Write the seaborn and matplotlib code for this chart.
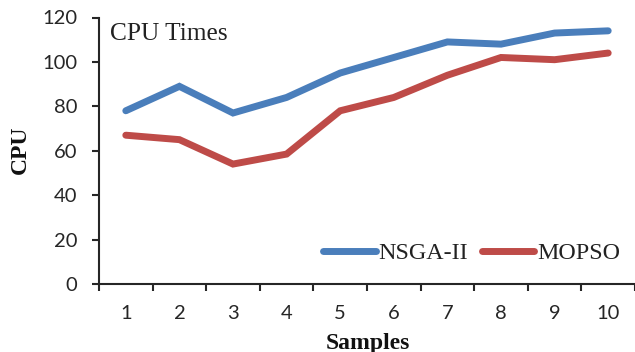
import matplotlib
matplotlib.use("Agg")
import matplotlib.pyplot as plt
import seaborn as sns
import pandas as pd
import numpy as np

samples = [1, 2, 3, 4, 5, 6, 7, 8, 9, 10]
nsga2 = [78, 89, 77, 84, 95, 102, 109, 108, 113, 114]
mopso = [67, 65, 54, 58.5, 78, 84, 94, 102, 101, 104]
series_names = ["NSGA-II", "MOPSO"]
y_ticks = [0, 20, 40, 60, 80, 100, 120]

df = pd.DataFrame({
    "Samples": samples * 2,
    "CPU": nsga2 + mopso,
    "Algorithm": [series_names[0]] * len(samples) + [series_names[1]] * len(samples),
})

sns.set_style("ticks")
plt.rcParams["font.family"] = ["Lato", "DejaVu Sans"]

fig = plt.figure(figsize=(6.35, 3.52), dpi=100)
ax = fig.add_axes([99 / 635, 68 / 352, 1 - 99 / 635, (284 - 17.5) / 352])

palette = {"NSGA-II": "#4A7EBB", "MOPSO": "#BE4B48"}
sns.lineplot(data=df, x="Samples", y="CPU", hue="Algorithm", palette=palette,
             linewidth=5, ax=ax, legend=True)
for ln in ax.lines:
    ln.set_solid_capstyle("round")
    ln.set_solid_joinstyle("miter")

ax.set_xlim(0.5, 10.5)
ax.set_ylim(0, 120)
ax.set_yticks(y_ticks)
ax.set_xticks(np.arange(0.5, 11, 1))
ax.set_xticklabels([])
ax.set_xticks(samples, minor=True)
ax.set_xticklabels([str(s) for s in samples], minor=True)

for s in ["left", "bottom"]:
    ax.spines[s].set_linewidth(1.5)
    ax.spines[s].set_color("#262626")
ax.spines["top"].set_visible(False)
ax.spines["right"].set_visible(False)

ax.tick_params(axis="y", which="major", length=5, width=1.5, color="#262626",
               labelsize=14.5, labelcolor="#262626", pad=10.5)
ax.tick_params(axis="x", which="major", length=5, width=1.5, color="#262626",
               direction="out")
ax.tick_params(axis="x", which="minor", length=0, labelsize=14.5,
               labelcolor="#262626", pad=15)

serif = ["Liberation Serif", "DejaVu Serif"]
ax.set_xlabel("")
ax.set_ylabel("")
fig.text(368 / 635, 1 - 343 / 352, "Samples", ha="center", va="center",
         fontsize=17, fontweight="bold", family=serif, color="#111111")
fig.text(20 / 635, 1 - 150 / 352, "CPU", ha="center", va="center", rotation=90,
         fontsize=17, fontweight="bold", family=serif, color="#111111")
fig.text(110 / 635, 1 - 34 / 352, "CPU Times", ha="left", va="center",
         fontsize=18.3, family=serif, color="#222222")

handles, labels = ax.get_legend_handles_labels()
leg = ax.legend(handles, labels, ncol=2, frameon=False, loc="center left",
                bbox_to_anchor=(323 / 635, 1 - 253 / 352), bbox_transform=fig.transFigure,
                borderpad=0, borderaxespad=0, handlelength=2.2, handletextpad=0.12,
                columnspacing=0.55, prop={"family": serif, "size": 17.3})
for t in leg.get_texts():
    t.set_color("#222222")
for h in leg.get_lines():
    h.set_linewidth(5)
    h.set_solid_capstyle("round")

fig.savefig("out.png", dpi=100)
